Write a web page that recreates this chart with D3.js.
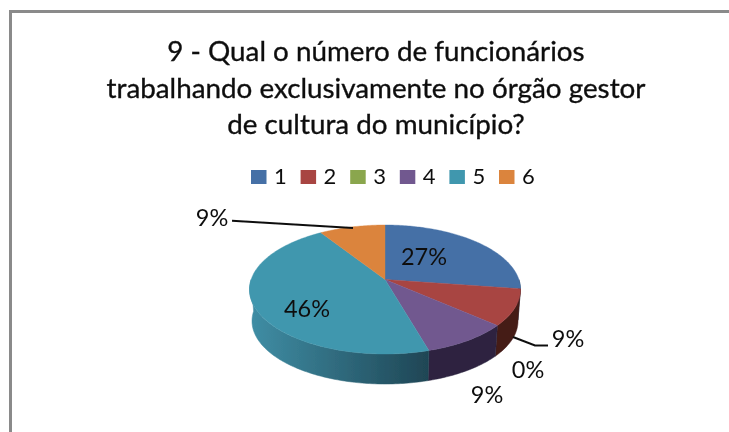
<!DOCTYPE html>
<html>
<head>
<meta charset="utf-8">
<script src="https://cdnjs.cloudflare.com/ajax/libs/d3/7.8.5/d3.min.js"></script>
<style>
  html, body { margin: 0; padding: 0; background: #fff; }
  svg { display: block; }
  text { font-family: Lato, "Open Sans", sans-serif; fill: #111; }
</style>
</head>
<body>
<svg id="chart" width="729" height="432"></svg>
<script>
const categories = ['1', '2', '3', '4', '5', '6'];
const shares = [27.3, 9.1, 0, 9.1, 45.4, 9.1];
const shareLabels = ['27%', '9%', '0%', '9%', '46%', '9%'];
const titleLines = [
  '9 - Qual o número de funcionários',
  'trabalhando exclusivamente no órgão gestor',
  'de cultura do município?'
];
const colours = ['#4570a6', '#a84543', '#8aa64e', '#71588f', '#4197ae', '#db843d'];
const darkColours = ['#26405f', '#451c18', '#4a5a2a', '#2d2440', '#1f4655', '#7a4a20'];

const svg = d3.select('#chart');
const defs = svg.append('defs');
defs.append('filter').attr('id', 'soft')
  .append('feGaussianBlur').attr('stdDeviation', 0.45);

// frame: no right or bottom edge in the crop
svg.append('path')
  .attr('d', 'M10.5,432V11.5H729')
  .attr('fill', 'none').attr('stroke', '#8a8a8a').attr('stroke-width', 3);

const root = svg.append('g').attr('filter', 'url(#soft)');

// title
root.append('g').selectAll('text').data(titleLines).join('text')
  .attr('x', 376)
  .attr('y', (d, i) => 61 + i * 36.5)
  .attr('text-anchor', 'middle')
  .attr('font-size', 27.8)
  .attr('stroke', '#111')
  .attr('stroke-width', 0.35)
  .text(d => d);

// legend
const legendX = d3.scalePoint().domain(categories).range([251, 499]);
const legend = root.append('g').selectAll('g').data(categories).join('g')
  .attr('transform', d => `translate(${legendX(d)},170)`);
legend.append('rect').attr('width', 15.5).attr('height', 14)
  .attr('fill', (d, i) => colours[i]);
legend.append('text').attr('x', 23).attr('y', 14)
  .attr('font-size', 22).text(d => d);

// pie, drawn through a perspective map of the unit circle
const pie = d3.pie().sort(null)(shares);
const tilt = -0.155;
const top3d = { cx: 385, cy: 289.5, rx: 135.5, ry: 64.5 };
const bottom3d = { cx: 385, cy: 321, rx: 133, ry: 63 };

function project(angle, r, box) {
  const x = r * Math.sin(angle), y = -r * Math.cos(angle);
  const w = 1 + tilt * y;
  return [
    box.cx + box.rx * x * Math.sqrt(1 - tilt * tilt) / w,
    box.cy + box.ry * (y + tilt) / w
  ];
}
function arcPoints(a0, a1, box) {
  const n = Math.max(2, Math.ceil((a1 - a0) * 60));
  return d3.range(n + 1).map(i => project(a0 + (a1 - a0) * i / n, 1, box));
}
const line = d3.line();

// side wall: only the front half of the rim is visible
const seen = [Math.PI / 2, Math.PI * 1.5];
const wallGrad = defs.append('linearGradient').attr('id', 'wall5')
  .attr('gradientUnits', 'userSpaceOnUse')
  .attr('x1', 252).attr('x2', 428).attr('y1', 0).attr('y2', 0);
wallGrad.append('stop').attr('offset', 0).attr('stop-color', '#3f8da4');
wallGrad.append('stop').attr('offset', 1).attr('stop-color', darkColours[4]);

const walls = root.append('g');
pie.forEach((d, i) => {
  const a0 = Math.max(d.startAngle, seen[0]), a1 = Math.min(d.endAngle, seen[1]);
  if (a1 <= a0) return;
  const pts = arcPoints(a0, a1, top3d).concat(arcPoints(a0, a1, bottom3d).reverse());
  walls.append('path')
    .attr('d', line(pts) + 'Z')
    .attr('fill', i === 4 ? 'url(#wall5)' : darkColours[i])
    .attr('stroke', i === 4 ? 'url(#wall5)' : darkColours[i])
    .attr('stroke-width', 0.5);
});

// top face
root.append('g').selectAll('path').data(pie.filter(d => d.value > 0)).join('path')
  .attr('d', d => line([project(0, 0, top3d)].concat(arcPoints(d.startAngle, d.endAngle, top3d))) + 'Z')
  .attr('fill', d => colours[d.index])
  .attr('stroke', d => colours[d.index])
  .attr('stroke-width', 0.4);

// leader lines
const leaders = root.append('g').attr('fill', 'none').attr('stroke', '#111').attr('stroke-width', 2);
leaders.append('path').attr('d', 'M232,220.7L353,228');
leaders.append('path').attr('d', 'M513,337L535,345.5H548');

// share labels
const labelAt = [[424, 265], [568, 347], [528, 378], [487, 403], [307, 317], [212, 226]];
root.append('g').selectAll('text').data(shareLabels).join('text')
  .attr('x', (d, i) => labelAt[i][0])
  .attr('y', (d, i) => labelAt[i][1])
  .attr('text-anchor', 'middle')
  .attr('font-size', 23.5)
  .text(d => d);
</script>
</body>
</html>
